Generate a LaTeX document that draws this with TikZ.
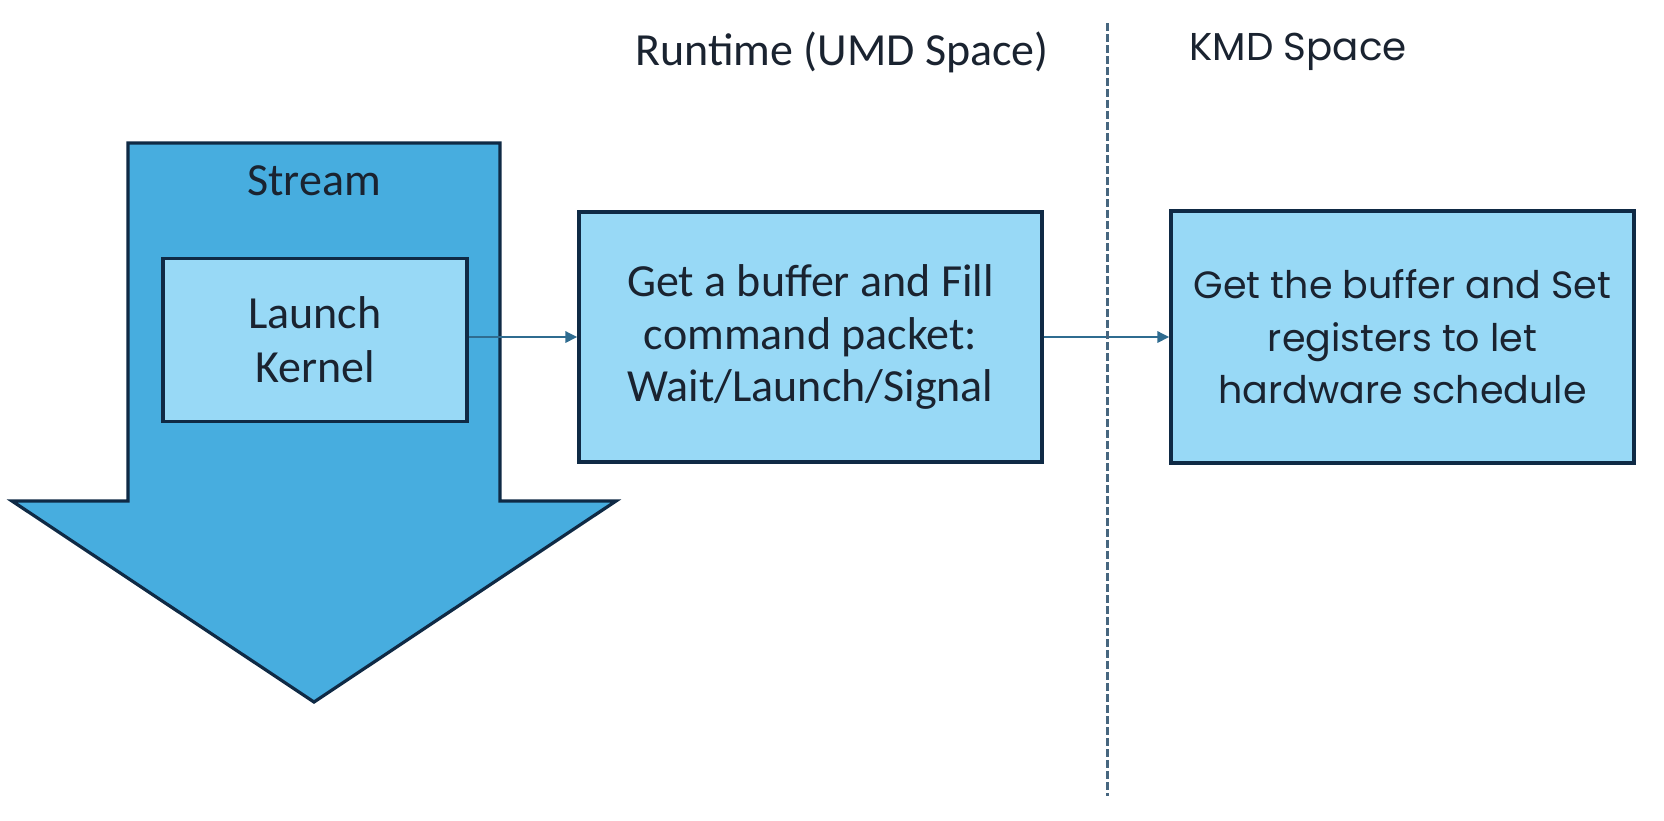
\documentclass[tikz,border=0pt]{standalone}
\usepackage{fontspec}
\setmainfont{Carlito}
\newfontfamily\geo{Poppins}
\usetikzlibrary{arrows.meta}
\definecolor{streamblue}{HTML}{47ADDF}
\definecolor{boxblue}{HTML}{98D9F6}
\definecolor{edgecol}{HTML}{0F2A45}
\definecolor{linkcol}{HTML}{2F6C90}
\definecolor{txtcol}{HTML}{1A2330}
\definecolor{dashcol}{HTML}{46667F}
\begin{document}
\begin{tikzpicture}[x=0.5pt,y=-0.5pt,
  boxnode/.style={draw=edgecol, fill=boxblue, line width=1.6pt, align=center,
    text=txtcol, inner sep=0pt, font=\fontsize{23}{26.3}\selectfont},
  plainlabel/.style={text=txtcol, inner sep=0pt, font=\fontsize{23}{26.3}\selectfont},
  linkarrow/.style={draw=linkcol, line width=1.4pt, -{Triangle[length=6pt,width=5.5pt]}},
  divider/.style={draw=dashcol, line width=1.5pt, dash pattern=on 4pt off 1.5pt}]
\useasboundingbox (0,0) rectangle (1664,820);
% stream arrow
\draw[fill=streamblue, draw=edgecol, line width=1.6pt, line join=miter]
  (128,143) -- (500,143) -- (500,501) -- (616,501) -- (314,702) -- (12,501) -- (128,501) -- cycle;
\node[plainlabel] (stream) at (314,181) {Stream};
\node[boxnode, minimum width=152pt, minimum height=81.5pt, font=\fontsize{23}{27}\selectfont] (lk) at (315,340) {Launch\\Kernel};
\node[boxnode, minimum width=231.5pt, minimum height=125pt] (mid) at (810.5,337) {Get a buffer and Fill\\command packet:\\Wait/Launch/Signal};
\node[boxnode, minimum width=231.5pt, minimum height=126pt, font=\geo\fontsize{19}{26.3}\selectfont] (kmd) at (1402.5,337) {Get the buffer and Set\\registers to let\\hardware schedule};
\node[plainlabel] (umdhead) at (842,52) {Runtime (UMD Space)};
\node[plainlabel, font=\geo\fontsize{19.4}{26}\selectfont] (kmdhead) at (1298,52) {KMD Space};
\draw[linkarrow] (lk.east |- mid.west) -- (mid.west);
\draw[linkarrow] (mid.east) -- (kmd.west);
\coordinate (dtop) at (1107,23);
\coordinate (dbot) at (1107,796);
\draw[divider] (dtop) -- (dbot);
\end{tikzpicture}
\end{document}
